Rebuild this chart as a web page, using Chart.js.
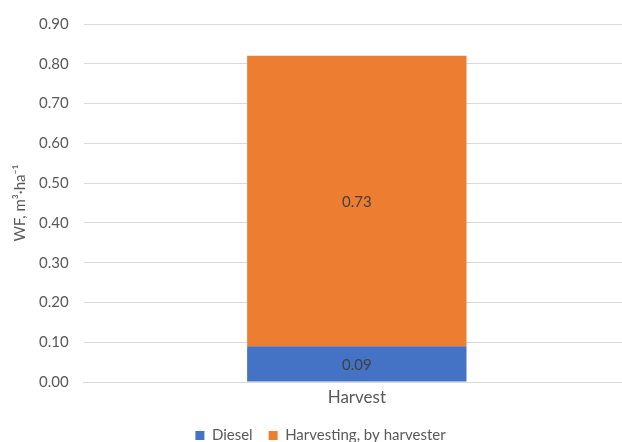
<!DOCTYPE html>
<html>
<head>
<meta charset="utf-8">
<script src="https://cdn.jsdelivr.net/npm/chart.js@4"></script>
<style>
  html, body { margin: 0; padding: 0; background: #fff; overflow: hidden; }
  #wrap { width: 630px; height: 453px; }
</style>
</head>
<body>
<div id="wrap"><canvas id="myChart"></canvas></div>
<script>
const categories = ["Harvest"];
const seriesNames = ["Diesel", "Harvesting, by harvester"];
const diesel = [0.09];
const harvesting = [0.73];
const seriesColors = ["#4472C4", "#ED7D31"];

const FONT = "Lato, 'Open Sans', sans-serif";
const TEXT = "#595959";

// writes each segment's value in the middle of its bar
const valueLabels = {
  id: "valueLabels",
  afterDatasetsDraw(chart) {
    const ctx = chart.ctx;
    ctx.save();
    ctx.font = "15px " + FONT;
    ctx.fillStyle = "#404040";
    ctx.textAlign = "center";
    ctx.textBaseline = "middle";
    chart.data.datasets.forEach((ds, i) => {
      chart.getDatasetMeta(i).data.forEach((bar, j) => {
        const { x, y, base } = bar.getProps(["x", "y", "base"], true);
        ctx.fillText(ds.data[j].toFixed(2), x, (y + base) / 2 + 1);
      });
    });
    ctx.restore();
  },
};

new Chart(document.getElementById("myChart"), {
  type: "bar",
  data: {
    labels: categories,
    datasets: [
      { label: seriesNames[0], data: diesel, backgroundColor: seriesColors[0] },
      { label: seriesNames[1], data: harvesting, backgroundColor: seriesColors[1] },
    ],
  },
  options: {
    responsive: true,
    maintainAspectRatio: false,
    animation: false,
    devicePixelRatio: 1,
    layout: { padding: { top: 11, right: 0, left: 11, bottom: 0 } },
    datasets: { bar: { barPercentage: 0.4015, categoryPercentage: 1 } },
    scales: {
      x: {
        stacked: true,
        grid: { display: false, drawTicks: false },
        border: { color: "#d9d9d9" },
        ticks: { color: TEXT, font: { family: FONT, size: 17 }, padding: 5 },
        afterFit(scale) {
          scale.height = 30;
        },
      },
      y: {
        stacked: true,
        min: 0,
        max: 0.9,
        grid: { color: "#d9d9d9", drawTicks: false },
        border: { display: false },
        ticks: {
          stepSize: 0.1,
          color: TEXT,
          padding: 15,
          font: { family: FONT, size: 15 },
          callback: (v) => v.toFixed(2),
        },
        title: {
          display: true,
          text: "WF, m³·ha⁻¹",
          color: TEXT,
          font: { family: FONT, size: 15 },
          padding: { top: 0, bottom: -5 },
        },
      },
    },
    plugins: {
      legend: {
        position: "bottom",
        labels: {
          color: TEXT,
          font: { family: FONT, size: 15 },
          boxWidth: 9,
          boxHeight: 9,
          padding: 16,
        },
      },
      tooltip: { enabled: false },
    },
  },
  plugins: [valueLabels],
});
</script>
</body>
</html>
